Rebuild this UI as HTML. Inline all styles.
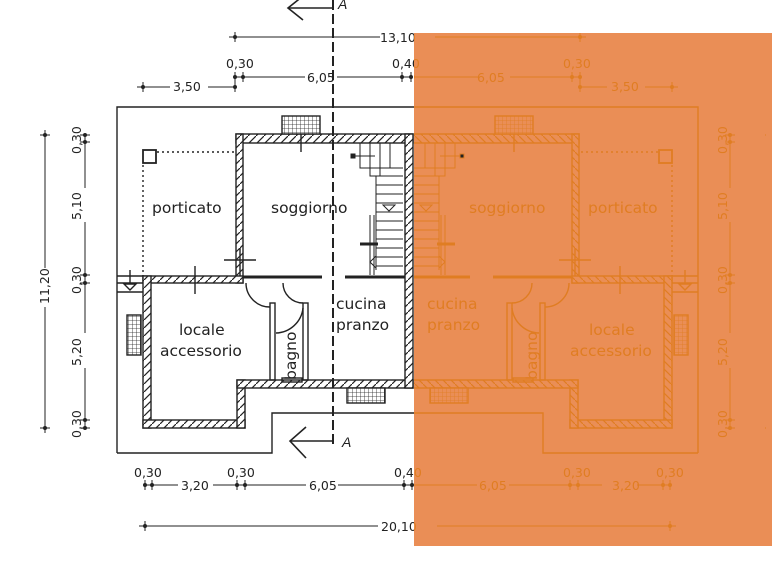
<!DOCTYPE html>
<html><head><meta charset="utf-8"><style>
html,body{margin:0;padding:0;background:#fff;width:772px;height:579px;overflow:hidden}
svg{display:block}
text{font-family:"DejaVu Sans","Liberation Sans",sans-serif;stroke:none}
.d{font-family:"Liberation Sans",sans-serif;font-size:12.5px}
.r{font-size:15.5px}
</style></head><body>
<svg width="772" height="579" viewBox="0 0 772 579" xmlns="http://www.w3.org/2000/svg">
<defs>
<pattern id="hk" width="8" height="8" patternUnits="userSpaceOnUse"><rect width="8" height="8" fill="#fff"/><path d="M0,8 L8,0" stroke="#222" stroke-width="1.2"/></pattern>
<pattern id="ho" width="8" height="8" patternUnits="userSpaceOnUse"><rect width="8" height="8" fill="#ea8e56"/><path d="M0,8 L8,0" stroke="#e07d22" stroke-width="1.2"/></pattern>
<pattern id="gk" width="4" height="4" patternUnits="userSpaceOnUse"><rect width="4" height="4" fill="#fff"/><path d="M0,0H4M0,0V4" stroke="#222" stroke-width="0.8"/></pattern>
<pattern id="go" width="4" height="4" patternUnits="userSpaceOnUse"><rect width="4" height="4" fill="#ea8e56"/><path d="M0,0H4M0,0V4" stroke="#e07d22" stroke-width="0.8"/></pattern>
<clipPath id="cl"><rect x="0" y="0" width="414" height="579"/><rect x="0" y="0" width="772" height="33"/><rect x="0" y="546" width="772" height="33"/><rect x="414" y="0" width="358" height="33"/></clipPath>
<clipPath id="cr"><rect x="414" y="33" width="352" height="513"/></clipPath>
<g id="geom" stroke-width="1.4">
  <polyline fill="none" points="117,453 117,107 415,107"/>
  <polyline fill="none" points="117,453 272,453 272,413 415,413"/>
  <rect x="236" y="134" width="177" height="9"/>
  <rect x="236" y="134" width="7" height="149"/>
  <rect x="143" y="276" width="100" height="7"/>
  <rect x="143" y="276" width="8" height="152"/>
  <rect x="143" y="420" width="102" height="8"/>
  <rect x="237" y="380" width="8" height="48"/>
  <rect x="237" y="380" width="176" height="8"/>
  <rect x="405" y="134" width="8" height="254"/>
  <g class="win">
  <rect x="282" y="116" width="38" height="18" style="fill:var(--g)"/>
  <rect x="127" y="315" width="14" height="40" style="fill:var(--g)"/>
  <rect x="347" y="388" width="38" height="15" style="fill:var(--g)"/>
  </g>
  <line x1="301" y1="134" x2="301" y2="152"/>
  <line x1="243" y1="277" x2="322" y2="277" stroke-width="3"/>
  <line x1="345" y1="277" x2="405" y2="277" stroke-width="3"/>
  <rect x="270" y="303" width="5" height="77" fill="none"/>
  <rect x="303" y="303" width="5" height="77" fill="none"/>
  <rect x="282" y="378" width="20" height="4" fill="none"/>
  <path d="M246,283 A24,24 0 0 0 270,307" fill="none"/>
  <path d="M283,283 A20,20 0 0 0 303,303" fill="none"/>
  <path d="M276,333 A28,28 0 0 0 303,308" fill="none"/>
  <line x1="157" y1="152" x2="236" y2="152" stroke-dasharray="2,3"/>
  <line x1="143" y1="165" x2="143" y2="276" stroke-dasharray="2,3"/>
  <rect x="143" y="150" width="13" height="13" fill="none" stroke-width="1.8"/>
  <line x1="224" y1="260" x2="256" y2="260"/><line x1="240" y1="248" x2="240" y2="276"/>
  <line x1="195" y1="266" x2="195" y2="294"/>
  <polyline fill="none" points="117,276 143,276"/><polyline fill="none" points="117,283 143,283"/><polyline fill="none" points="117,292 143,292"/>
  <path d="M124,284 L136,284 L130,290 Z" fill="none"/><line x1="130" y1="270" x2="130" y2="284"/>
  <g fill="none" stroke-width="1">
  <rect x="351" y="154" width="4" height="4" fill="#222"/>
  <line x1="355" y1="156" x2="375" y2="156"/>
  <polyline points="360,143 360,168 403,168"/>
  <polyline points="370,143 370,176 403,176"/>
  <line x1="380" y1="143" x2="380" y2="176"/>
  <line x1="390" y1="143" x2="390" y2="168"/>
  <line x1="376" y1="176" x2="376" y2="270"/>
  <line x1="376" y1="185" x2="403" y2="185"/><line x1="376" y1="194" x2="403" y2="194"/><line x1="376" y1="203" x2="403" y2="203"/><line x1="376" y1="212" x2="403" y2="212"/><line x1="376" y1="221" x2="403" y2="221"/><line x1="376" y1="230" x2="403" y2="230"/><line x1="376" y1="239" x2="403" y2="239"/><line x1="376" y1="248" x2="403" y2="248"/><line x1="376" y1="257" x2="403" y2="257"/><line x1="376" y1="266" x2="403" y2="266"/>
  <line x1="370" y1="215" x2="370" y2="275"/><line x1="374" y1="215" x2="374" y2="275"/>
  <line x1="360" y1="244" x2="378" y2="244" stroke-width="3"/>
  <path d="M383,205 L395,205 L389,211 Z"/>
  <path d="M376,256 L370,262 L376,268 Z"/>
  </g>
  <g fill="none" stroke-width="1">
  <line x1="235" y1="37" x2="380" y2="37"/>
  <line x1="235" y1="77" x2="305" y2="77"/><line x1="337" y1="77" x2="411" y2="77"/>
  <line x1="143" y1="87" x2="170" y2="87"/><line x1="208" y1="87" x2="235" y2="87"/><line x1="235" y1="77" x2="235" y2="92"/>
  <line x1="145" y1="485" x2="178" y2="485"/><line x1="213" y1="485" x2="306" y2="485"/><line x1="338" y1="485" x2="412" y2="485"/>
  <line x1="145" y1="526" x2="378" y2="526"/>
  <line x1="45" y1="135" x2="45" y2="268"/><line x1="45" y1="307" x2="45" y2="428"/>
  <line x1="85" y1="135" x2="85" y2="188"/><line x1="85" y1="222" x2="85" y2="333"/><line x1="85" y1="368" x2="85" y2="428"/>
  <path d="M235,32V42M229,37H241 M143,82V92M137,87H149 M235,72V82 M243,72V82 M402,72V82 M411,72V82"/>
  <path d="M145,480V490 M152,480V490 M237,480V490 M245,480V490 M404,480V490 M412,480V490 M145,521V531M139,526H151"/>
  <path d="M40,135H50M45,130V140 M40,428H50M45,423V433"/>
  <path d="M80,135H90M80,142H90M80,275H90M80,283H90M80,420H90M80,428H90"/>
  </g>
  <g stroke="none" fill="currentColor">
  <circle cx="235" cy="37" r="2"/><circle cx="143" cy="87" r="2"/><circle cx="235" cy="77" r="2"/><circle cx="243" cy="77" r="2"/><circle cx="235" cy="87" r="2"/><circle cx="402" cy="77" r="2"/><circle cx="411" cy="77" r="2"/>
  <circle cx="145" cy="485" r="2"/><circle cx="152" cy="485" r="2"/><circle cx="237" cy="485" r="2"/><circle cx="245" cy="485" r="2"/><circle cx="404" cy="485" r="2"/><circle cx="412" cy="485" r="2"/><circle cx="145" cy="526" r="2"/>
  <circle cx="45" cy="135" r="2"/><circle cx="45" cy="428" r="2"/>
  <circle cx="85" cy="135" r="2"/><circle cx="85" cy="142" r="2"/><circle cx="85" cy="275" r="2"/><circle cx="85" cy="283" r="2"/><circle cx="85" cy="420" r="2"/><circle cx="85" cy="428" r="2"/>
  </g>
</g>
<g id="txt">
  <g class="d">
  <text x="380" y="42">13,10</text>
  <text x="226" y="68">0,30</text><text x="307" y="82">6,05</text><text x="392" y="68">0,40</text><text x="173" y="91">3,50</text>
  <text x="477" y="82">6,05</text><text x="563" y="68">0,30</text><text x="611" y="91">3,50</text>
  <text x="134" y="477">0,30</text><text x="181" y="490">3,20</text><text x="227" y="477">0,30</text><text x="309" y="490">6,05</text><text x="394" y="477">0,40</text>
  <text x="479" y="490">6,05</text><text x="563" y="477">0,30</text><text x="612" y="490">3,20</text><text x="656" y="477">0,30</text>
  <text x="381" y="531">20,10</text>
  <text transform="translate(49,304) rotate(-90)">11,20</text>
  <text transform="translate(81,154) rotate(-90)">0,30</text>
  <text transform="translate(81,220) rotate(-90)">5,10</text>
  <text transform="translate(81,294) rotate(-90)">0,30</text>
  <text transform="translate(81,366) rotate(-90)">5,20</text>
  <text transform="translate(81,438) rotate(-90)">0,30</text>
  <text transform="translate(727,154) rotate(-90)">0,30</text>
  <text transform="translate(727,220) rotate(-90)">5,10</text>
  <text transform="translate(727,294) rotate(-90)">0,30</text>
  <text transform="translate(727,366) rotate(-90)">5,20</text>
  <text transform="translate(727,438) rotate(-90)">0,30</text>
  </g>
  <g class="r">
  <text x="152" y="213">porticato</text><text x="271" y="213">soggiorno</text>
  <text x="179" y="335">locale</text><text x="160" y="356">accessorio</text>
  <text x="336" y="309">cucina</text><text x="336" y="330">pranzo</text>
  <text transform="translate(296,380) rotate(-90)">bagno</text>
  <text x="469" y="213">soggiorno</text><text x="588" y="213">porticato</text>
  <text x="427" y="309">cucina</text><text x="427" y="330">pranzo</text>
  <text x="589" y="335">locale</text><text x="570" y="356">accessorio</text>
  <text transform="translate(537,380) rotate(-90)">bagno</text>
  </g>
</g>
</defs>

<g clip-path="url(#cl)" stroke="#222" fill="url(#hk)" color="#222" style="--g:url(#gk)">
  <use href="#geom"/>
</g>
<g stroke="#222" fill="none" stroke-width="1.6">
  <line x1="333" y1="0" x2="333" y2="445" stroke-dasharray="10,4" stroke-width="2"/>
  <line x1="288" y1="8" x2="333" y2="8"/><polyline points="303,-4 288,8 303,20"/>
  <line x1="290" y1="441" x2="333" y2="441"/><polyline points="306,427 290,441 306,458"/>
</g>
<text x="338" y="9" style="font-family:'Liberation Sans',sans-serif;font-style:italic;font-size:14px" fill="#222">A</text>
<text x="342" y="447" style="font-family:'Liberation Sans',sans-serif;font-style:italic;font-size:14px" fill="#222">A</text>
<g clip-path="url(#cl)" fill="#222"><use href="#txt"/></g>

<rect x="414" y="33" width="358" height="513" fill="#ea8e56"/>
<g clip-path="url(#cr)" stroke="#e07d22" fill="url(#ho)" color="#e07d22" style="--g:url(#go)">
  <use href="#geom" transform="translate(815,0) scale(-1,1)"/>
</g>
<g clip-path="url(#cr)" fill="#e07d22"><use href="#txt"/></g>
</svg>
</body></html>
